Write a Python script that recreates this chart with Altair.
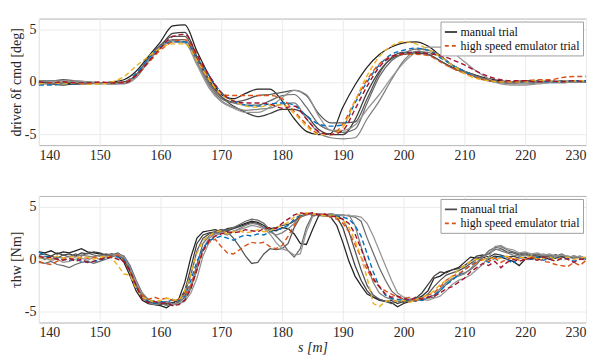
import altair as alt
import pandas as pd

# ---------------- data ----------------
S_TOP = list(range(140, 231, 2))   # sample positions, top panel [m]
S_BOT = list(range(140, 231, 1))   # sample positions, bottom panel [m]

KINDS = ["manual trial", "high speed emulator trial"]

MANUAL = ["M1", "M2", "M3", "M4", "M5", "M6"]
MANUAL_COLORS = ["#222222", "#3d3d3d", "#555555", "#6b6b6b", "#808080", "#959595"]
EMU = ["E1", "E2", "E3", "E4"]
EMU_COLORS = ["#0072BD", "#D95319", "#EDB120", "#A2142F"]

# driver delta_f cmd [deg]
top_M1 = [0.0, -0.1, -0.1, -0.2, -0.1, -0.1, 0.0, 0.2, 1.0, 2.4,
          3.8, 5.3, 5.4, 2.9, 0.6, -1.2, -1.6, -1.1, -0.7, -0.7,
          -1.8, -3.5, -4.7, -5.0, -4.9, -2.4, -0.3, 1.4, 2.6, 3.3,
          3.7, 3.8, 3.4, 2.5, 1.6, 1.0, 0.6, 0.3, 0.1, 0.0,
          0.1, 0.0, 0.0, 0.1, 0.0, 0.0]
top_M2 = [-0.1, -0.2, -0.3, -0.2, -0.2, -0.1, -0.1, 0.0, 0.6, 2.0,
          3.3, 4.6, 4.7, 2.4, 0.2, -1.4, -2.3, -2.9, -3.3, -3.0,
          -2.6, -2.6, -3.2, -4.5, -5.0, -5.0, -3.6, -1.0, 1.0, 2.2,
          2.6, 2.7, 2.6, 2.0, 1.4, 1.0, 0.6, 0.2, 0.0, 0.0,
          0.1, 0.1, 0.0, 0.0, 0.1, 0.1]
top_M3 = [0.1, 0.1, 0.2, 0.1, 0.0, -0.1, -0.2, -0.1, 0.7, 2.2,
          3.5, 4.3, 4.3, 2.2, 0.0, -1.4, -1.9, -1.7, -1.3, -1.2,
          -1.0, -0.8, -1.3, -3.0, -3.9, -3.9, -3.8, -1.6, 0.8, 2.3,
          2.8, 2.8, 2.6, 2.0, 1.3, 0.9, 0.5, 0.2, 0.0, -0.1,
          0.0, 0.0, 0.1, 0.0, 0.0, 0.0]
top_M4 = [-0.2, -0.2, -0.1, 0.0, -0.1, -0.2, -0.1, -0.1, 0.6, 2.1,
          3.4, 4.0, 4.0, 2.0, -0.2, -1.6, -2.0, -2.2, -2.2, -1.8,
          -1.3, -1.2, -2.4, -4.0, -4.6, -4.8, -4.5, -2.0, 0.5, 2.0,
          2.7, 3.1, 3.0, 2.5, 1.6, 1.0, 0.5, 0.2, 0.0, -0.1,
          0.0, 0.0, 0.0, 0.0, 0.1, 0.0]
top_M5 = [0.0, 0.1, 0.1, 0.0, -0.1, -0.1, -0.2, -0.2, 0.4, 1.9,
          3.2, 3.9, 3.8, 1.8, -0.4, -1.8, -2.4, -2.7, -2.6, -2.5,
          -2.1, -2.0, -3.5, -4.8, -5.3, -5.4, -5.3, -3.5, -1.8, 0.2,
          2.0, 2.9, 2.8, 2.4, 1.6, 1.0, 0.5, 0.1, -0.1, -0.2,
          -0.2, -0.1, 0.0, 0.0, 0.0, 0.0]
top_M6 = [-0.2, -0.1, 0.0, 0.1, 0.0, -0.1, -0.2, -0.1, 0.5, 2.0,
          3.3, 3.8, 3.7, 1.6, -0.6, -1.9, -2.5, -2.9, -2.9, -2.4,
          -1.5, -0.8, -1.2, -3.2, -4.6, -4.6, -4.1, -2.6, -1.2, 0.4,
          1.8, 2.8, 3.3, 3.3, 2.8, 1.9, 1.0, 0.3, -0.2, -0.3,
          -0.3, -0.2, -0.1, -0.1, 0.0, 0.0]
top_E1 = [-0.3, -0.3, -0.2, -0.2, -0.1, -0.1, -0.1, 0.0, 0.8, 2.2,
          3.3, 3.8, 3.8, 2.3, 0.6, -1.0, -1.8, -2.2, -2.3, -2.1,
          -2.0, -2.2, -3.2, -4.0, -4.2, -4.1, -2.0, 0.0, 1.6, 2.6,
          3.0, 3.2, 3.0, 2.3, 1.6, 1.0, 0.4, 0.1, 0.0, 0.0,
          0.0, 0.1, 0.0, 0.0, 0.1, 0.1]
top_E2 = [-0.1, -0.1, 0.0, -0.1, -0.2, -0.1, -0.1, 0.0, 0.6, 1.8,
          3.0, 3.8, 4.0, 2.4, 0.3, -1.2, -1.3, -1.3, -1.3, -1.3,
          -1.6, -2.8, -4.0, -4.9, -5.0, -4.0, -1.8, 0.2, 1.7, 2.4,
          2.6, 2.6, 2.5, 1.9, 1.3, 0.8, 0.4, 0.1, 0.0, 0.0,
          0.1, 0.2, 0.2, 0.4, 0.5, 0.5]
top_E3 = [-0.2, -0.1, -0.2, -0.1, -0.2, -0.2, 0.0, 0.5, 1.5, 2.4,
          3.2, 3.6, 3.6, 2.0, 0.2, -1.2, -1.8, -2.3, -2.4, -2.2,
          -2.2, -3.0, -4.2, -5.0, -5.0, -4.3, -1.8, 0.6, 2.4, 3.4,
          3.8, 3.6, 3.1, 2.4, 1.6, 0.8, 0.3, 0.1, 0.0, 0.0,
          0.0, 0.1, 0.1, 0.0, 0.1, 0.1]
top_E4 = [0.0, -0.1, 0.0, -0.1, -0.1, 0.0, -0.1, -0.1, 0.6, 1.9,
          3.2, 4.3, 4.5, 2.6, 0.6, -1.0, -1.8, -2.0, -2.0, -2.1,
          -2.5, -2.3, -3.5, -4.7, -5.0, -4.6, -2.6, -0.4, 1.4, 2.4,
          2.7, 2.8, 2.7, 2.5, 2.1, 1.6, 1.0, 0.5, 0.2, 0.1,
          0.1, 0.0, 0.1, 0.0, 0.1, 0.0]

# tau_hw [Nm]
bot_M1 = [0.7, 0.6, 0.8, 0.5, 0.7, 0.6, 0.8, 1.0, 0.7, 0.6,
          0.5, 0.4, 0.5, 0.3, -0.3, -1.6, -3.0, -3.9, -4.2, -4.3,
          -4.4, -4.6, -4.2, -3.8, -2.2, 0.2, 2.0, 2.6, 2.7, 2.8,
          2.6, 2.9, 3.0, 3.2, 3.4, 3.6, 3.5, 3.2, 2.8, 2.7,
          3.0, 2.9, 2.4, 1.5, 1.4, 2.8, 4.1, 4.2, 4.0, 3.2,
          1.6, -0.2, -1.6, -2.5, -3.3, -3.6, -3.8, -4.0, -4.1, -4.5,
          -4.2, -4.0, -3.8, -3.5, -3.0, -1.8, -1.6, -1.2, -1.0, -0.8,
          -0.3, 0.2, 0.1, 0.2, 0.0, 0.3, 0.2, 0.0, -0.2, -0.6,
          0.0, 0.1, 0.3, 0.2, 0.0, 0.1, 0.3, 0.2, 0.1, 0.3,
          0.0]
bot_M2 = [0.4, 0.5, 0.3, 0.6, 0.4, 0.5, 0.3, 0.6, 0.5, 0.7,
          0.6, 0.4, 0.3, 0.4, 0.0, -1.2, -2.6, -3.6, -4.0, -4.1,
          -4.3, -4.2, -4.1, -3.9, -3.0, -0.8, 1.5, 2.3, 2.5, 2.6,
          2.8, 2.7, 2.9, 3.1, 3.3, 3.5, 3.4, 3.0, 2.9, 3.0,
          3.2, 3.3, 3.6, 4.1, 4.3, 4.2, 4.3, 4.1, 4.2, 4.0,
          3.0, 1.2, -0.6, -2.0, -3.0, -3.6, -3.9, -4.0, -3.9, -4.2,
          -4.0, -3.9, -3.7, -3.2, -2.4, -1.6, -1.2, -1.3, -1.0, -0.9,
          -0.6, -0.2, 0.3, 0.4, 0.2, 0.5, 0.4, 0.2, 0.3, 0.1,
          0.2, 0.0, 0.1, 0.3, 0.2, 0.4, 0.2, 0.1, 0.3, 0.2,
          0.1]
bot_M3 = [0.2, 0.0, 0.3, 0.1, 0.4, 0.2, 0.5, 0.3, 0.6, 0.4,
          0.3, 0.5, 0.4, 0.6, 0.2, -0.9, -2.4, -3.5, -4.0, -4.2,
          -4.1, -4.3, -4.4, -4.0, -3.2, -1.5, 0.8, 2.0, 2.4, 2.6,
          2.8, 2.6, 2.0, 1.2, 0.3, -0.4, -0.3, 0.5, 1.0, 0.9,
          1.0, 1.5, 3.0, 4.0, 4.2, 4.3, 4.2, 4.1, 4.3, 4.1,
          3.8, 2.6, 0.8, -1.0, -2.5, -3.4, -3.8, -4.0, -4.2, -4.0,
          -4.1, -3.9, -4.0, -3.7, -3.3, -2.6, -2.0, -1.5, -1.3, -1.1,
          -0.8, -0.4, 0.0, 0.3, 0.5, 0.9, 1.0, 0.7, 0.6, 0.4,
          0.5, 0.3, 0.4, 0.2, 0.3, 0.4, 0.2, 0.3, 0.1, 0.2,
          0.0]
bot_M4 = [-0.3, -0.4, -0.2, -0.5, -0.6, -0.8, -0.5, -0.3, -0.2, -0.4,
          -0.2, 0.0, 0.2, 0.5, 0.3, -0.6, -2.0, -3.2, -3.8, -4.0,
          -4.2, -4.0, -4.3, -4.1, -3.6, -2.6, -0.5, 1.5, 2.2, 2.5,
          2.6, 2.8, 3.0, 3.3, 3.6, 3.8, 3.7, 3.4, 2.8, 2.2,
          1.6, 0.8, 0.2, 1.0, 3.0, 4.2, 4.3, 4.2, 4.3, 4.2,
          4.2, 4.1, 4.0, 3.6, 2.0, 0.6, -0.8, -2.0, -3.0, -3.5,
          -3.8, -3.9, -3.8, -3.9, -3.7, -3.6, -3.0, -2.4, -1.9, -1.5,
          -1.3, -1.0, -0.5, 0.2, 0.8, 1.1, 1.2, 0.9, 0.7, 0.5,
          0.6, 0.4, 0.5, 0.3, 0.4, 0.3, 0.5, 0.2, 0.3, 0.1,
          0.1]
bot_M5 = [0.1, 0.3, 0.0, 0.2, 0.1, 0.3, 0.2, 0.4, 0.3, 0.2,
          0.4, 0.3, 0.5, 0.4, 0.1, -1.0, -2.6, -3.7, -4.1, -4.3,
          -4.2, -4.4, -4.2, -4.3, -3.8, -2.8, -1.0, 1.0, 2.0, 2.4,
          2.5, 2.3, 2.6, 2.9, 3.2, 3.4, 3.3, 3.0, 2.6, 2.3,
          2.5, 2.9, 3.4, 4.0, 4.3, 4.2, 4.2, 4.3, 4.1, 4.2,
          4.1, 4.2, 3.2, 1.2, -0.6, -2.2, -3.2, -3.6, -3.8, -4.0,
          -3.9, -4.0, -3.8, -3.9, -3.6, -3.4, -2.8, -2.2, -1.8, -1.6,
          -1.4, -0.9, -0.3, 0.2, 0.6, 1.0, 0.8, 0.6, 0.4, 0.3,
          0.4, 0.2, 0.3, 0.5, 0.3, 0.2, 0.4, 0.2, 0.3, 0.2,
          0.1]
bot_M6 = [0.2, 0.1, -0.1, 0.0, -0.3, -0.2, 0.0, 0.1, -0.1, 0.2,
          0.0, 0.2, 0.3, 0.5, 0.2, -0.8, -2.2, -3.3, -3.9, -4.1,
          -4.0, -4.1, -4.3, -4.2, -4.0, -3.2, -1.8, 0.3, 1.6, 2.2,
          2.5, 2.4, 2.7, 2.8, 3.0, 3.2, 3.1, 2.9, 2.4, 1.6,
          1.0, 0.8, 0.4, 0.5, 2.6, 4.0, 4.3, 4.2, 4.3, 4.2,
          4.2, 4.1, 4.1, 4.0, 3.4, 2.2, 0.8, -0.6, -2.0, -3.2,
          -3.6, -3.7, -3.9, -3.8, -3.9, -3.7, -3.5, -3.0, -2.4, -2.0,
          -1.8, -1.5, -1.0, -0.5, 0.2, 1.2, 1.3, 1.0, 0.9, 0.6,
          0.7, 0.5, 0.6, 0.4, 0.5, 0.3, 0.4, 0.3, 0.2, 0.3,
          0.1]
bot_E1 = [0.7, 0.3, 0.2, 0.1, 0.0, -0.1, 0.0, -0.2, -0.3, -0.2,
          -0.1, 0.1, 0.3, 0.2, 0.0, -1.0, -2.6, -3.6, -4.0, -4.2,
          -4.0, -4.1, -3.8, -3.9, -3.5, -2.0, -0.2, 1.0, 1.8, 2.0,
          2.2, 2.0, 1.8, 2.1, 2.3, 2.2, 2.4, 2.3, 2.6, 2.8,
          2.9, 3.2, 3.8, 4.2, 4.3, 4.2, 4.2, 4.1, 4.2, 4.1,
          4.0, 3.8, 3.2, 2.2, 0.5, -1.2, -2.6, -3.4, -3.7, -3.8,
          -3.9, -3.8, -3.7, -3.9, -3.6, -3.4, -3.0, -2.4, -2.0, -1.5,
          -1.0, -0.6, -0.2, 0.0, -0.3, 0.1, 0.3, 0.0, -0.4, 0.2,
          0.1, 0.0, 0.2, -0.1, 0.1, 0.2, 0.0, 0.1, -0.2, 0.0,
          0.1]
bot_E2 = [-0.2, -0.4, -0.5, -0.2, 0.0, 0.1, 0.0, 0.2, 0.1, 0.2,
          0.0, 0.2, 0.3, 0.4, -0.2, -1.2, -2.5, -3.4, -3.8, -3.6,
          -3.8, -3.7, -3.9, -3.8, -3.4, -2.4, -0.8, 0.8, 1.6, 1.9,
          1.2, 0.6, 0.5, 0.9, 1.3, 1.6, 1.5, 1.6, 1.2, 1.0,
          1.3, 2.2, 3.2, 4.0, 4.3, 4.2, 4.3, 4.2, 4.0, 3.8,
          3.4, 2.6, 1.4, 0.2, -1.0, -2.0, -2.6, -3.0, -3.3, -3.6,
          -3.8, -3.6, -3.9, -3.7, -3.4, -3.2, -2.6, -2.0, -1.6, -1.4,
          -1.0, -0.6, -0.3, 0.0, -0.2, 0.1, -0.3, 0.0, 0.2, -0.1,
          0.0, 0.2, 0.1, -0.2, -0.3, -0.5, -0.6, -0.7, -0.3, -0.6,
          -0.1]
bot_E3 = [0.1, 0.2, 0.0, 0.3, 0.1, 0.2, 0.3, 0.1, 0.2, 0.0,
          0.2, 0.3, 0.1, -0.6, -1.4, -1.5, -2.8, -3.6, -3.9, -4.0,
          -3.9, -3.7, -3.8, -3.9, -3.0, -1.4, 0.6, 1.8, 2.2, 2.6,
          2.7, 2.4, 2.6, 2.7, 2.5, 2.6, 2.8, 2.6, 2.7, 3.0,
          3.2, 3.5, 4.0, 4.3, 4.4, 4.3, 4.2, 4.1, 4.2, 4.0,
          3.7, 3.0, 1.8, 0.2, -1.8, -4.2, -4.5, -4.0, -3.9, -4.0,
          -3.9, -4.1, -3.8, -3.6, -3.4, -3.0, -2.4, -2.0, -1.6, -1.0,
          -0.6, -0.2, 0.0, -0.1, 0.2, 0.0, 0.1, 0.3, 0.0, 0.2,
          0.1, 0.3, 0.0, 0.1, 0.2, 0.0, 0.1, 0.2, 0.0, 0.1,
          0.2]
bot_E4 = [0.3, 0.1, 0.2, 0.0, -0.1, 0.1, -0.2, 0.0, -0.3, -0.2,
          0.0, 0.1, 0.2, 0.0, -0.2, -1.1, -2.5, -3.8, -4.1, -4.0,
          -4.2, -4.1, -4.4, -4.3, -3.9, -2.8, -1.0, 0.8, 1.8, 2.2,
          2.4, 2.6, 2.5, 2.6, 2.8, 2.7, 2.6, 2.9, 3.0, 2.9,
          3.4, 3.8, 4.2, 4.4, 4.3, 4.4, 4.2, 4.3, 4.1, 4.0,
          3.8, 3.4, 2.4, 1.0, -0.6, -1.8, -2.6, -3.3, -3.6, -3.5,
          -3.7, -3.9, -3.6, -3.8, -3.6, -3.5, -3.2, -2.8, -2.6, -2.2,
          -1.8, -1.2, -0.8, -0.4, -0.6, -0.2, -0.8, -0.3, 0.0, -0.2,
          0.0, 0.1, -0.1, 0.2, 0.0, -0.2, 0.1, 0.0, -0.3, 0.0,
          0.0]

TOP = {"M1": top_M1, "M2": top_M2, "M3": top_M3, "M4": top_M4, "M5": top_M5,
       "M6": top_M6, "E1": top_E1, "E2": top_E2, "E3": top_E3, "E4": top_E4}
BOT = {"M1": bot_M1, "M2": bot_M2, "M3": bot_M3, "M4": bot_M4, "M5": bot_M5,
       "M6": bot_M6, "E1": bot_E1, "E2": bot_E2, "E3": bot_E3, "E4": bot_E4}


def frame(series, s_vals):
    rows = []
    for name, vals in series.items():
        kind = KINDS[0] if name.startswith("M") else KINDS[1]
        for s, v in zip(s_vals, vals):
            rows.append({"s": s, "v": v, "trial": name, "kind": kind})
    return pd.DataFrame(rows)


df_top = frame(TOP, S_TOP)
df_bot = frame(BOT, S_BOT)

FONT = "Liberation Serif"
W, H = 549, 127
AX = dict(labelFont=FONT, labelFontSize=14, labelColor="#262626",
          titleFont=FONT, titleFontSize=14, titleFontWeight="normal",
          titleColor="#262626", grid=True, gridColor="#ebebeb", gridWidth=1,
          domain=False, ticks=False, labelPadding=3, titlePadding=1)


def panel(df, ytitle, xtitle, interp):
    xaxis = alt.Axis(values=list(range(140, 231, 10)), title=xtitle,
                     titleFontStyle="italic", **AX)
    x = alt.X("s:Q", scale=alt.Scale(domain=[140, 230], nice=False, zero=False),
              axis=xaxis)
    y = alt.Y("v:Q", scale=alt.Scale(domain=[-6, 6], nice=False),
              axis=alt.Axis(values=[-5, 0, 5], title=ytitle,
                            labelExpr="replace(datum.label, '\u2212', '-')", **AX))
    manual = alt.Chart(df).transform_filter(
        alt.datum.kind == KINDS[0]
    ).mark_line(strokeWidth=1.25, interpolate=interp).encode(
        x=x, y=y, detail="trial:N",
        color=alt.Color("trial:N", scale=alt.Scale(domain=MANUAL, range=MANUAL_COLORS),
                        legend=None),
    )
    emu = alt.Chart(df).transform_filter(
        alt.datum.kind == KINDS[1]
    ).mark_line(strokeWidth=1.4, strokeDash=[5, 3], interpolate=interp).encode(
        x=x, y=y, detail="trial:N",
        color=alt.Color("trial:N", scale=alt.Scale(domain=EMU, range=EMU_COLORS),
                        legend=None),
    )
    leg_props = dict(title=None, orient="top-right", offset=3, fillColor="white",
                     strokeColor="#a0a0a0", padding=3, symbolType="stroke",
                     symbolSize=150, symbolStrokeWidth=1.8, labelFont=FONT,
                     labelFontSize=12, labelColor="#111111", rowPadding=0,
                     labelOffset=2)
    legend_layer = alt.Chart(df).transform_filter(
        alt.datum.s == 140
    ).mark_line().encode(
        x=x, y=y, detail="trial:N",
        color=alt.Color("kind:N", scale=alt.Scale(domain=KINDS, range=["#4d4d4d", "#D95319"]),
                        legend=alt.Legend(**leg_props)),
        strokeDash=alt.StrokeDash("kind:N", scale=alt.Scale(domain=KINDS, range=[[1, 0], [4, 3]]),
                                  legend=alt.Legend(**leg_props)),
    )
    return alt.layer(manual, emu, legend_layer).resolve_scale(
        color="independent", strokeDash="independent"
    ).properties(width=W, height=H)


top = panel(df_top, "driver δf cmd [deg]", None, "monotone")
bottom = panel(df_bot, "τhw [Nm]", "s [m]", "linear")

chart = alt.vconcat(top, bottom, spacing=32).resolve_scale(
    color="independent", strokeDash="independent"
).properties(
    padding={"left": 0, "top": 9, "right": 0, "bottom": 0}
).configure_view(
    stroke="#b4b4b4", strokeWidth=1
).configure_axis(
    labelFont=FONT, titleFont=FONT
).configure_legend(
    labelFont=FONT, labelFontSize=12
)

chart.save("out.html", embed_options={"renderer": "svg", "actions": False})
